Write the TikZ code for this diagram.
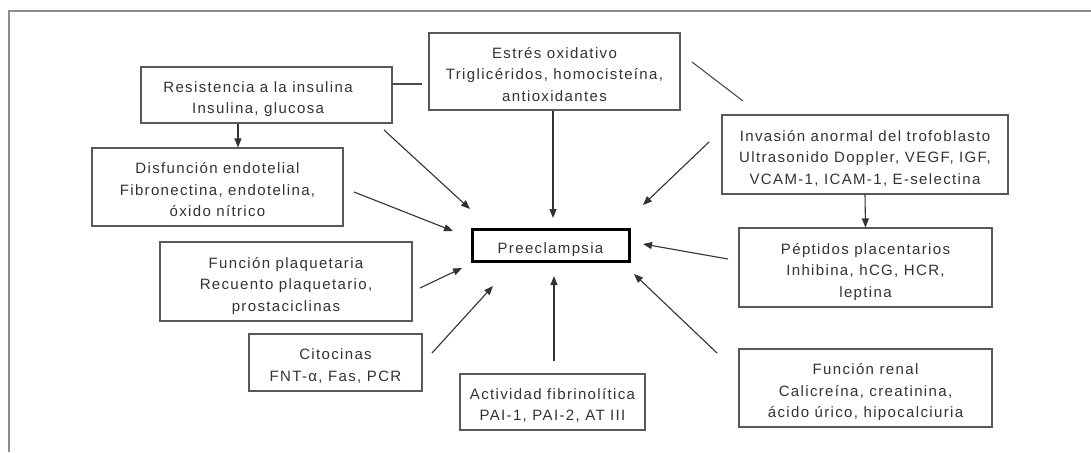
\documentclass[tikz,border=0pt]{standalone}
\usepackage{fontspec}
\setmainfont{Liberation Sans}
\newfontfamily\boxfont{Liberation Sans}[LetterSpace=9]
\usetikzlibrary{arrows.meta}
\newcommand\tp{\vrule height 21pt depth 0pt width 0pt\relax}
\newcommand\bt{\vrule height 0pt depth 5pt width 0pt\relax}
\tikzset{
  box/.style={draw=black!65, line width=1.1pt, align=center, inner sep=0pt,
    font=\boxfont\fontsize{15}{21.5}\selectfont, text=black!80},
  mainbox/.style={box, draw=black, line width=3pt},
  arr/.style={draw=black!80, line width=1.1pt, -{Triangle[length=9pt,width=7pt]}},
  link/.style={draw=black!70, line width=1.1pt},
  frame/.style={draw=black!45, line width=2pt}
}
\begin{document}
\begin{tikzpicture}[x=1pt,y=-1pt]
\useasboundingbox[fill=white] (0,0) rectangle (1091,452);
\draw[frame] (9,452) -- (9,11) -- (1091,11);
% boxes
\node[box, minimum width=251pt, minimum height=56pt] (res) at (266.5,95) {\tp Resistencia a la insulina\kern17pt\\Insulina, glucosa\kern17pt\bt};
\node[box, minimum width=251pt, minimum height=77pt] (est) at (554.5,71.5) {\tp Estrés oxidativo\\Triglicéridos, homocisteína,\\antioxidantes\bt};
\node[box, minimum width=251pt, minimum height=78pt] (dis) at (217.5,187) {\tp Disfunción endotelial\\Fibronectina, endotelina,\\óxido nítrico\bt};
\node[box, minimum width=286pt, minimum height=79pt] (inv) at (865,154.5) {\tp Invasión anormal del trofoblasto\\Ultrasonido Doppler, VEGF, IGF,\\VCAM-1, ICAM-1, E-selectina\bt};
\node[mainbox, minimum width=157pt, minimum height=32pt] (pre) at (550.5,245) {\tp Preeclampsia\bt};
\node[box, minimum width=252pt, minimum height=79pt] (pla) at (286,281.5) {\tp Función plaquetaria\\Recuento plaquetario,\\prostaciclinas\bt};
\node[box, minimum width=253pt, minimum height=79pt] (pep) at (865.5,267.5) {\tp Péptidos placentarios\\Inhibina, hCG, HCR,\\leptina\bt};
\node[box, minimum width=173pt, minimum height=57pt] (cit) at (335.5,362.5) {\tp Citocinas\\FNT-α, Fas, PCR\bt};
\node[box, minimum width=185pt, minimum height=56pt] (act) at (552.5,402) {\tp Actividad fibrinolítica\\PAI-1, PAI-2, AT III\bt};
\node[box, minimum width=253pt, minimum height=78pt] (ren) at (865.5,388) {\tp Función renal\\Calicreína, creatinina,\\ácido úrico, hipocalciuria\bt};
% free-end coordinates
\coordinate (xres) at (238,0);
\coordinate (xest) at (553,0);
\coordinate (l1a) at (392,84);
\coordinate (l1b) at (422,84);
\coordinate (l2a) at (692,62);
\coordinate (l2b) at (743,101);
\coordinate (ea) at (553,218);
\coordinate (ra) at (384,130);
\coordinate (rb) at (470,209);
\coordinate (da) at (354,192);
\coordinate (db) at (453,231);
\coordinate (ia) at (709,142);
\coordinate (ib) at (643,205);
\coordinate (pa) at (728,259);
\coordinate (pb) at (643,244);
\coordinate (fa) at (717,353);
\coordinate (fb) at (634,274);
\coordinate (aa) at (554,361);
\coordinate (ab) at (554,276);
\coordinate (ca) at (432,353);
\coordinate (cb) at (493,286);
\coordinate (qa) at (420,288);
\coordinate (qb) at (462,268);
% connectors
\draw[arr] (res.south -| xres) -- (dis.north -| xres);
\draw[link] (l1a) -- (l1b);
\draw[link] (l2a) -- (l2b);
\draw[arr] (est.south -| xest) -- (ea);
\draw[arr] (inv.south) -- (pep.north);
\draw[arr] (ra) -- (rb);
\draw[arr] (da) -- (db);
\draw[arr] (ia) -- (ib);
\draw[arr] (pa) -- (pb);
\draw[arr] (fa) -- (fb);
\draw[arr] (aa) -- (ab);
\draw[arr] (ca) -- (cb);
\draw[arr] (qa) -- (qb);
\end{tikzpicture}
\end{document}
